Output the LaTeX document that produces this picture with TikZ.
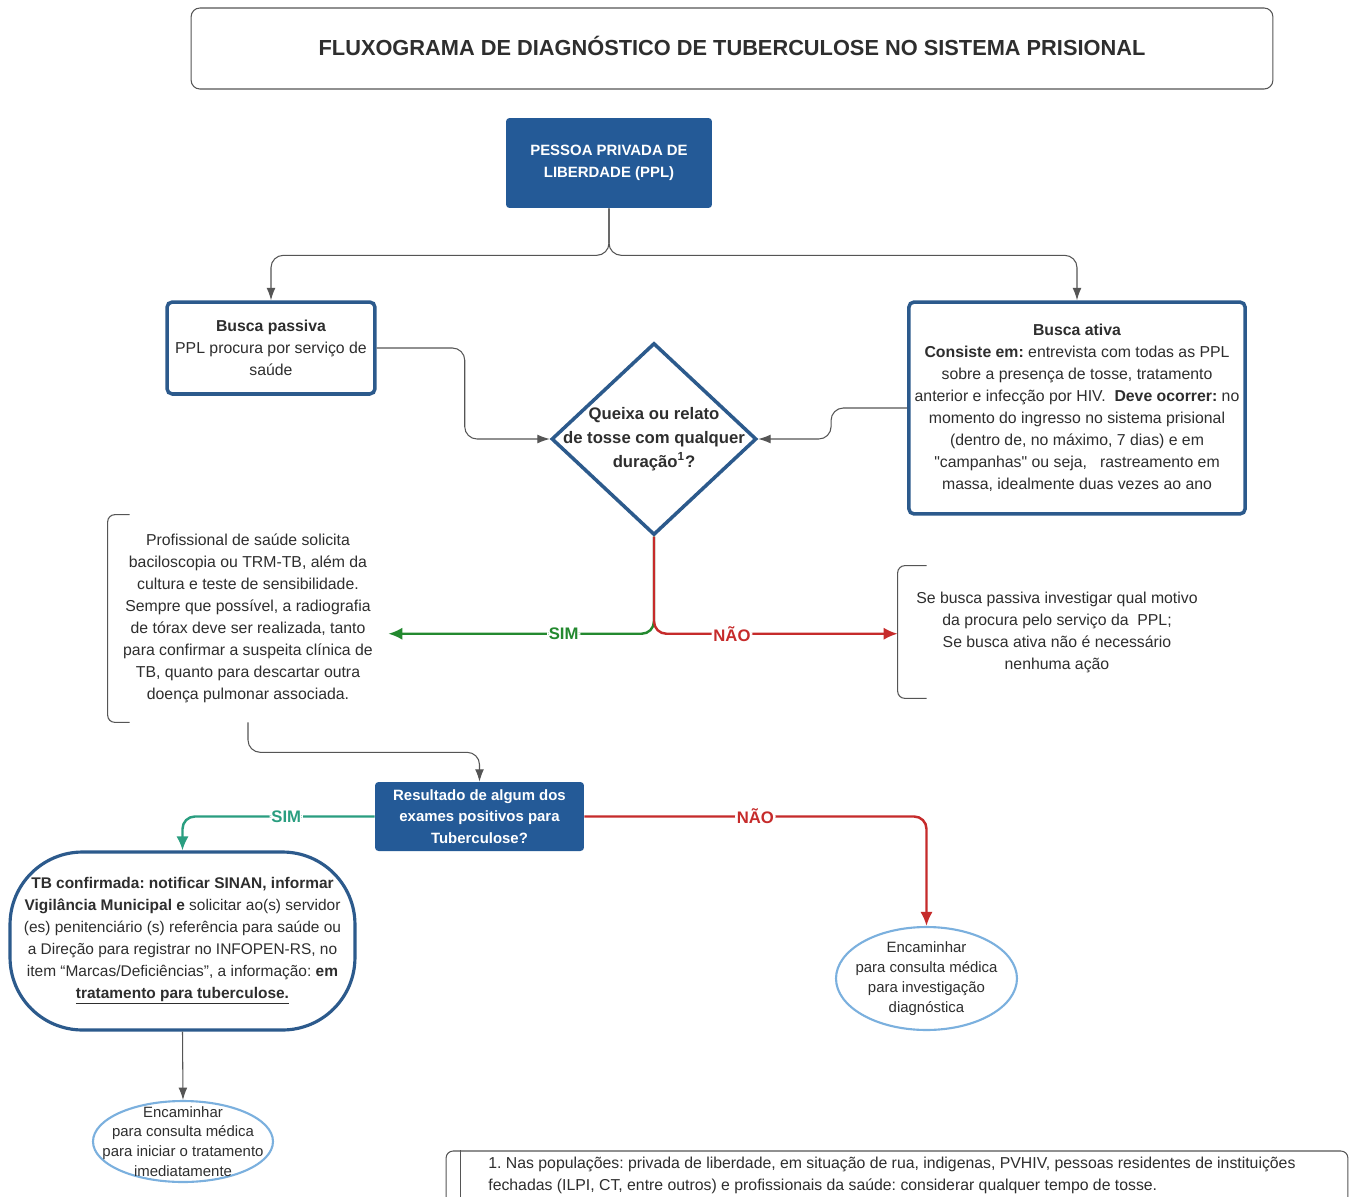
\documentclass[tikz,border=0pt]{standalone}
\usepackage{fontspec}
\setmainfont{Liberation Sans}[Ligatures=TeXOff]
\usepackage{tikz}
\usetikzlibrary{positioning, shapes.geometric, arrows.meta}
\definecolor{BoxBlue}{HTML}{245A97}
\definecolor{EdgeBlue}{HTML}{2C5A8C}
\definecolor{SimGreen}{HTML}{23892F}
\definecolor{NaoRed}{HTML}{C62B2B}
\definecolor{SimTeal}{HTML}{2A9E80}
\definecolor{SoftBlue}{HTML}{7BB0DE}
\definecolor{InkGray}{HTML}{2E2E2E}
\definecolor{LineGray}{HTML}{555555}
\frenchspacing

\tikzset{
  titlebox/.style={draw=LineGray, line width=0.6pt, rounded corners=5pt,
    minimum width=21.64cm, minimum height=1.62cm, font=\fontsize{12.4}{14}\selectfont\bfseries},
  darkbox/.style={fill=BoxBlue, rounded corners=2pt, align=center, text=white,
    font=\fontsize{8.5}{12.3}\selectfont\bfseries},
  searchbox/.style={draw=EdgeBlue, line width=2pt, rounded corners=3pt, fill=white, align=center},
  decision/.style={diamond, draw=EdgeBlue, line width=2pt, fill=white,
    minimum width=4.1cm, minimum height=3.84cm, inner sep=0pt},
  notebox/.style={align=center, inner sep=0pt},
  bracket/.style={draw=LineGray, line width=0.6pt, rounded corners=4pt},
  endbubble/.style={ellipse, draw=SoftBlue, line width=1.2pt, inner sep=0pt},
  flowline/.style={draw=LineGray, line width=0.6pt, rounded corners=7pt,
    -{Latex[length=7pt,width=5pt]}},
  branchline/.style={line width=1.4pt, rounded corners=7pt, -{Latex[length=8pt,width=7pt]}},
  branchlabel/.style={fill=white, inner sep=1pt, font=\fontsize{9.5}{11}\selectfont\bfseries}
}

\begin{document}
\begin{tikzpicture}[x=0.02cm, y=-0.02cm, font=\fontsize{9}{12.5}\selectfont, text=InkGray]
\useasboundingbox (0,0) rectangle (1350,1197);
\fill[white] (0,0) rectangle (1350,1197);

% title
\node[titlebox] (title) at (732,48.5) {\raisebox{3pt}{FLUXOGRAMA DE DIAGNÓSTICO DE TUBERCULOSE NO SISTEMA PRISIONAL}};

% entry and the two searches
\node[darkbox, minimum width=4.12cm, minimum height=1.8cm] (ppl) at (609,163)
  {PESSOA PRIVADA DE\\LIBERDADE (PPL)};
\node[searchbox, minimum width=4.16cm, minimum height=1.84cm] (passiva) at (271,348)
  {\textbf{Busca passiva}\\PPL procura por serviço de\\saúde};
\node[searchbox, minimum width=6.64cm, minimum height=4.24cm] (ativa) at (1077,408)
  {\textbf{Busca ativa}\\
   \textbf{Consiste em:} entrevista com todas as PPL\\
   sobre a presença de tosse, tratamento\\
   anterior e infecção por HIV.\ \ \textbf{Deve ocorrer:} no\\
   momento do ingresso no sistema prisional\\
   (dentro de, no máximo, 7 dias) e em\\
   "campanhas" ou seja,\ \ \ rastreamento em\\
   massa, idealmente duas vezes ao ano};

% question
\node[decision, label={[align=center, font=\fontsize{9.5}{13.6}\selectfont\bfseries]center:Queixa ou relato\\de tosse com qualquer\\duração\textsuperscript{1}?}] (diam) at (654,439) {};

% outcomes of the question
\node[notebox, minimum width=5.6cm, minimum height=4.14cm] (profsol) at (248,618.5)
  {Profissional de saúde solicita\\
   baciloscopia ou TRM-TB, além da\\
   cultura e teste de sensibilidade.\\
   Sempre que possível, a radiografia\\
   de tórax deve ser realizada, tanto\\
   para confirmar a suspeita clínica de\\
   TB, quanto para descartar outra\\
   doença pulmonar associada.};
\node[notebox, minimum width=6.36cm, minimum height=2.64cm] (nota) at (1057,632)
  {Se busca passiva investigar qual motivo\\
   da procura pelo serviço da\ \ PPL;\\
   Se busca ativa não é necessário\\
   nenhuma ação};
\draw[bracket] (profsol.north west) ++(22,0) -- (profsol.north west) -- (profsol.south west) -- ++(22,0);
\draw[bracket] (nota.north west) ++(29,0) -- (nota.north west) -- (nota.south west) -- ++(29,0);

% result
\node[darkbox, minimum width=4.18cm, minimum height=1.38cm] (result) at (479.5,816.5)
  {Resultado de algum dos\\exames positivos para\\Tuberculose?};
\node[draw=EdgeBlue, line width=1.8pt, rounded corners=1.45cm, fill=white, align=center,
  minimum width=6.9cm, minimum height=3.56cm, font=\fontsize{8.8}{12.5}\selectfont] (tbconf) at (182.5,941)
  {\textbf{TB confirmada: notificar SINAN, informar}\\
   \textbf{Vigilância Municipal e} solicitar ao(s) servidor\\
   (es) penitenciário (s) referência para saúde ou\\
   a Direção para registrar no INFOPEN-RS, no\\
   item “Marcas/Deficiências”, a informação: \textbf{em}\\
   \textbf{\underline{tratamento para tuberculose.}}};
\node[endbubble, minimum width=3.6cm, minimum height=1.62cm,
  label={[align=center, font=\fontsize{8.5}{11.3}\selectfont]center:Encaminhar\\para consulta médica\\para iniciar o tratamento\\imediatamente}] (enc1) at (183,1141.5) {};
\node[endbubble, minimum width=3.62cm, minimum height=2.06cm,
  label={[align=center, font=\fontsize{8.5}{11.3}\selectfont]center:Encaminhar\\para consulta médica\\para investigação\\diagnóstica}] (enc2) at (926.5,978.5) {};

% footnote
\node[draw=LineGray, line width=0.6pt, rounded corners=4pt, minimum width=18.04cm,
  minimum height=1.4cm] (foot) at (897,1186) {};
\draw[LineGray, line width=0.6pt] (foot.north west) ++(15,0) -- ++(0,60);
\node[anchor=north west, align=left, inner sep=0pt, font=\fontsize{9}{12.4}\selectfont] (foottext) at (488,1157)
  {1. Nas populações: privada de liberdade, em situação de rua, indigenas, PVHIV, pessoas residentes de instituições\\
   fechadas (ILPI, CT, entre outros) e profissionais da saúde: considerar qualquer tempo de tosse.};

% connectors
\draw[flowline] (ppl.south) -- ++(0,47) -| (passiva.north);
\draw[flowline] (ppl.south) -- ++(0,47) -| (ativa.north);
\draw[flowline] (passiva.east) -- ++(88,0) |- (diam.west);
\draw[flowline] (ativa.west) -- ++(-76,0) |- (diam.east);
\path (diam.south) ++(0,97) coordinate (split);
\draw[branchline, SimGreen] (diam.south) -- (split) -- node[branchlabel, pos=0.34, text=SimGreen] {SIM} (profsol.east |- split);
\draw[branchline, NaoRed] (diam.south) -- (split) -- node[branchlabel, pos=0.32, text=NaoRed] {NÃO} (nota.west |- split);
\draw[flowline] (profsol.south) -- ++(0,30) -| (result.north);
\draw[branchline, SimTeal] (result.west) -| node[branchlabel, pos=0.23, text=SimTeal] {SIM} (tbconf.north);
\draw[branchline, NaoRed] (result.east) -| node[branchlabel, pos=0.25, text=NaoRed] {NÃO} (enc2.north);
\draw[flowline] (tbconf.south) -- (enc1.north);
\end{tikzpicture}
\end{document}
